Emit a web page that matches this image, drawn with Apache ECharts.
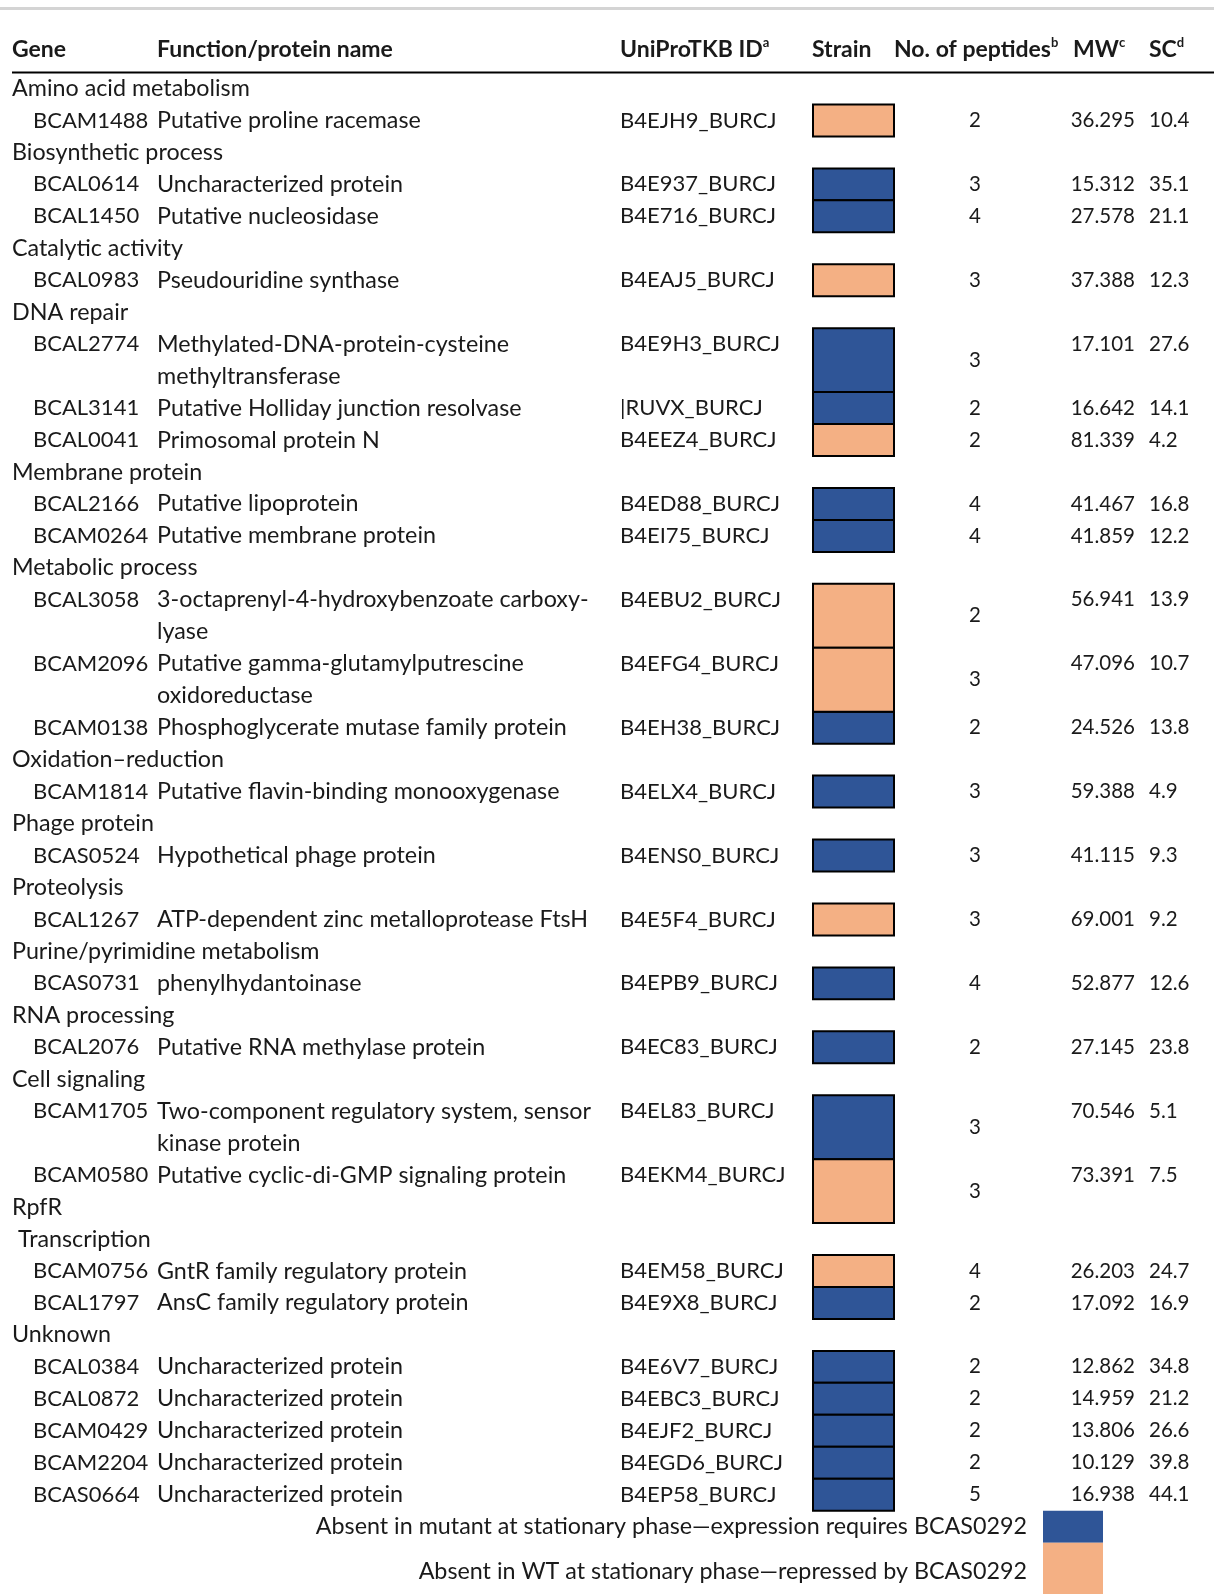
<!DOCTYPE html>
<html>
<head>
<meta charset="utf-8">
<script src="https://cdn.jsdelivr.net/npm/echarts@6/dist/echarts.min.js"></script>
<style>
  html, body { margin:0; padding:0; background:#fff; }
  #chart { width:1214px; height:1594px; }
</style>
</head>
<body>
<div id="chart"></div>
<script>
// table content
const groupNames = ['Amino acid metabolism', 'Biosynthetic process', 'Catalytic activity', 'DNA repair',
  'Membrane protein', 'Metabolic process', 'Oxidation\u2013reduction', 'Phage protein', 'Proteolysis',
  'Purine/pyrimidine metabolism', 'RNA processing', 'Cell signaling', ' Transcription', 'Unknown'];

const genes = ['BCAM1488', 'BCAL0614', 'BCAL1450', 'BCAL0983', 'BCAL2774', 'BCAL3141', 'BCAL0041',
  'BCAL2166', 'BCAM0264', 'BCAL3058', 'BCAM2096', 'BCAM0138', 'BCAM1814', 'BCAS0524', 'BCAL1267',
  'BCAS0731', 'BCAL2076', 'BCAM1705', 'BCAM0580', 'BCAM0756', 'BCAL1797', 'BCAL0384', 'BCAL0872',
  'BCAM0429', 'BCAM2204', 'BCAS0664'];

const groupOf = [0, 1, 1, 2, 3, 3, 3, 4, 4, 5, 5, 5, 6, 7, 8, 9, 10, 11, 11, 12, 12, 13, 13, 13, 13, 13];

const functions = ['Putative proline racemase', 'Uncharacterized protein', 'Putative nucleosidase',
  'Pseudouridine synthase', 'Methylated-DNA-protein-cysteine\nmethyltransferase',
  'Putative Holliday junction resolvase', 'Primosomal protein N', 'Putative lipoprotein',
  'Putative membrane protein', '3-octaprenyl-4-hydroxybenzoate carboxy-\nlyase',
  'Putative gamma-glutamylputrescine\noxidoreductase', 'Phosphoglycerate mutase family protein',
  'Putative flavin-binding monooxygenase', 'Hypothetical phage protein',
  'ATP-dependent zinc metalloprotease FtsH', 'phenylhydantoinase', 'Putative RNA methylase protein',
  'Two-component regulatory system, sensor\nkinase protein', 'Putative cyclic-di-GMP signaling protein\nRpfR',
  'GntR family regulatory protein', 'AnsC family regulatory protein', 'Uncharacterized protein',
  'Uncharacterized protein', 'Uncharacterized protein', 'Uncharacterized protein', 'Uncharacterized protein'];

// wrapped function names whose second line starts at the left margin
const wrapAtMargin = ['BCAM0580'];

const uniprotIds = ['B4EJH9_BURCJ', 'B4E937_BURCJ', 'B4E716_BURCJ', 'B4EAJ5_BURCJ', 'B4E9H3_BURCJ',
  '|RUVX_BURCJ', 'B4EEZ4_BURCJ', 'B4ED88_BURCJ', 'B4EI75_BURCJ', 'B4EBU2_BURCJ', 'B4EFG4_BURCJ',
  'B4EH38_BURCJ', 'B4ELX4_BURCJ', 'B4ENS0_BURCJ', 'B4E5F4_BURCJ', 'B4EPB9_BURCJ', 'B4EC83_BURCJ',
  'B4EL83_BURCJ', 'B4EKM4_BURCJ', 'B4EM58_BURCJ', 'B4E9X8_BURCJ', 'B4E6V7_BURCJ', 'B4EBC3_BURCJ',
  'B4EJF2_BURCJ', 'B4EGD6_BURCJ', 'B4EP58_BURCJ'];

// 0 = absent in mutant (blue), 1 = absent in WT (peach)
const strains = [1, 0, 0, 1, 0, 0, 1, 0, 0, 1, 1, 0, 0, 0, 1, 0, 0, 0, 1, 1, 0, 0, 0, 0, 0, 0];

const peptides = [2, 3, 4, 3, 3, 2, 2, 4, 4, 2, 3, 2, 3, 3, 3, 4, 2, 3, 3, 4, 2, 2, 2, 2, 2, 5];

const mw = [36.295, 15.312, 27.578, 37.388, 17.101, 16.642, 81.339, 41.467, 41.859, 56.941, 47.096,
  24.526, 59.388, 41.115, 69.001, 52.877, 27.145, 70.546, 73.391, 26.203, 17.092, 12.862, 14.959,
  13.806, 10.129, 16.938];

const sc = [10.4, 35.1, 21.1, 12.3, 27.6, 14.1, 4.2, 16.8, 12.2, 13.9, 10.7, 13.8, 4.9, 9.3, 9.2, 12.6,
  23.8, 5.1, 7.5, 24.7, 16.9, 34.8, 21.2, 26.6, 39.8, 44.1];

const headerLabels = ['Gene', 'Function/protein name', 'UniProTKB ID', 'Strain', 'No. of peptides', 'MW', 'SC'];
const headerNotes = ['', '', 'a', '', 'b', 'c', 'd'];

const legendLabels = ['Absent in mutant at stationary phase\u2014expression requires BCAS0292',
  'Absent in WT at stationary phase\u2014repressed by BCAS0292'];

// layout
const COLORS = ['#2f5597', '#f4b084'];
const INK = '#1a1a1a';
const FONT = 'Lato, "Noto Sans", sans-serif';
const F_TEXT = '23.3px ' + FONT;   // group / function / legend text
const F_ID = '22px ' + FONT;       // gene and UniProt ids
const F_NUM = '20.5px ' + FONT;    // numeric columns
const col = { group: 12, gene: 33, func: 157, uni: 620, strainL: 813, strainR: 894, pep: 975, mw: 1135, sc: 1149 };
const headerX = [12, 157, 620, 812, 894, 1073, 1149];
const legendTextX = 1027, legendBox = [1043, 1103];

// build line layout from the data
const rows = [];
let line = 0, prevGroup = -1;
genes.forEach((g, i) => {
  if (groupOf[i] !== prevGroup) {
    rows.push({ kind: 'group', line: line, text: groupNames[groupOf[i]] });
    line++;
    prevGroup = groupOf[i];
  }
  const n = functions[i].split('\n').length;
  rows.push({ kind: 'gene', line: line, i: i, n: n });
  line += n;
});
const geneRows = rows.filter(r => r.kind === 'gene');

function txt(x, y, text, font, align) {
  return {
    type: 'text', x: x, y: y,
    style: { text: text, fill: INK, font: font,
      align: align || 'left', verticalAlign: 'middle', textAlign: align || 'left', textVerticalAlign: 'middle' }
  };
}

function renderRow(params, api) {
  const r = rows[params.dataIndex];
  const y = api.coord([0, r.line])[1];
  const step = api.size([0, 1])[1];
  const X = v => api.coord([v, 0])[0];
  const children = [];
  if (r.kind === 'group') {
    children.push(txt(X(col.group), y, r.text, F_TEXT));
  } else {
    const i = r.i;
    const parts = functions[i].split('\n');
    children.push(txt(X(col.gene), y, genes[i], F_ID));
    parts.forEach((p, k) => {
      const x = (k > 0 && wrapAtMargin.indexOf(genes[i]) >= 0) ? col.group : col.func;
      children.push(txt(X(x), y + k * step, p, F_TEXT));
    });
    children.push(txt(X(col.uni), y, uniprotIds[i], F_ID));
    children.push(txt(X(col.pep), y + (parts.length - 1) * step / 2, String(peptides[i]), F_NUM, 'center'));
    children.push(txt(X(col.mw), y, mw[i].toFixed(3), F_NUM, 'right'));
    children.push(txt(X(col.sc), y, sc[i].toFixed(1), F_NUM));
  }
  return { type: 'group', children: children };
}

function strainRenderer(kind) {
  const list = geneRows.filter(r => strains[r.i] === kind);
  return {
    data: list.map(r => [col.strainL, r.line]),
    renderItem: function (params, api) {
      const r = list[params.dataIndex];
      const p0 = api.coord([col.strainL, r.line - 0.5]);
      const p1 = api.coord([col.strainR, r.line + r.n - 0.5]);
      return {
        type: 'rect',
        shape: { x: p0[0], y: p0[1], width: p1[0] - p0[0], height: p1[1] - p0[1] },
        style: { fill: COLORS[kind], stroke: '#000', lineWidth: 2 }
      };
    }
  };
}

function renderHeader(params, api) {
  const y = api.coord([0, -1.21])[1];
  const ruleY = api.coord([0, -0.5])[1];
  const children = headerLabels.map((h, k) => ({
    type: 'text', x: api.coord([headerX[k], 0])[0], y: y,
    style: {
      text: '{h|' + h + '}' + (headerNotes[k] ? '{s|' + headerNotes[k] + '}' : ''),
      align: 'left', verticalAlign: 'middle', textAlign: 'left', textVerticalAlign: 'middle',
      rich: {
        h: { font: 'bold 23px ' + FONT, fill: INK, lineHeight: 26 },
        s: { font: 'bold 13px ' + FONT, fill: INK, verticalAlign: 'top' }
      }
    }
  }));
  children.push({
    type: 'line',
    shape: { x1: api.coord([col.group, 0])[0], y1: ruleY, x2: api.coord([1214, 0])[0], y2: ruleY },
    style: { stroke: '#000', lineWidth: 2 }
  });
  return { type: 'group', children: children };
}

const legendLines = [45, 46.4];
const legendSpans = [[44.5, 45.5], [45.5, 47.2]];
function renderLegend(params, api) {
  const k = params.dataIndex;
  const y = api.coord([0, legendLines[k]])[1];
  const b0 = api.coord([legendBox[0], legendSpans[k][0]]);
  const b1 = api.coord([legendBox[1], legendSpans[k][1]]);
  return {
    type: 'group',
    children: [
      txt(api.coord([legendTextX, 0])[0], y, legendLabels[k], F_TEXT, 'right'),
      { type: 'rect', shape: { x: b0[0], y: b0[1], width: b1[0] - b0[0], height: b1[1] - b0[1] },
        style: { fill: COLORS[k] } }
    ]
  };
}

const myChart = echarts.init(document.getElementById('chart'));
const s0 = strainRenderer(0), s1 = strainRenderer(1);
myChart.setOption({
  backgroundColor: '#fff',
  animation: false,
  graphic: [{ type: 'rect', left: 0, top: 7, shape: { width: 1214, height: 3 }, style: { fill: '#d4d4d4' } }],
  grid: { left: 0, right: 0, top: 72.5, bottom: 83.3, outerBoundsMode: 'none' },
  xAxis: { type: 'value', min: 0, max: 1214, show: false },
  yAxis: { type: 'value', min: -0.5, max: 44.5, inverse: true, show: false },
  series: [
    { type: 'custom', name: legendLabels[0], renderItem: s0.renderItem, data: s0.data, encode: { x: 0, y: 1 }, clip: false },
    { type: 'custom', name: legendLabels[1], renderItem: s1.renderItem, data: s1.data, encode: { x: 0, y: 1 }, clip: false },
    { type: 'custom', name: 'rows', renderItem: renderRow, data: rows.map(r => [0, r.line]), encode: { x: 0, y: 1 }, clip: false },
    { type: 'custom', name: 'header', renderItem: renderHeader, data: [[0, -1.21]], encode: { x: 0, y: 1 }, clip: false },
    { type: 'custom', name: 'legend', renderItem: renderLegend, data: legendLines.map(v => [legendTextX, v]), encode: { x: 0, y: 1 }, clip: false }
  ]
});
</script>
</body>
</html>
